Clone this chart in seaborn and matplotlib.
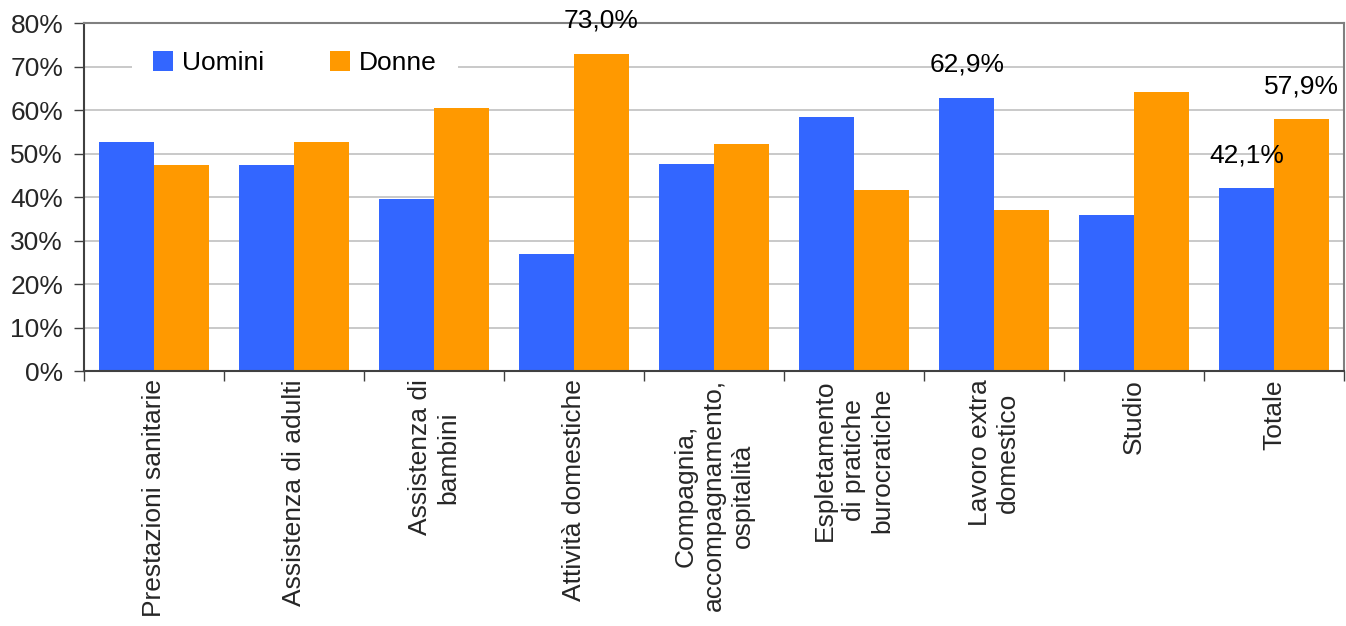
import pandas as pd
import matplotlib
matplotlib.use("Agg")
import matplotlib.pyplot as plt
import matplotlib.ticker as mticker
import seaborn as sns

categorie = [
    "Prestazioni sanitarie",
    "Assistenza di adulti",
    "Assistenza di\nbambini",
    "Attività domestiche",
    "Compagnia,\naccompagnamento,\nospitalità",
    "Espletamento\ndi pratiche\nburocratiche",
    "Lavoro extra\ndomestico",
    "Studio",
    "Totale",
]
uomini = [52.6, 47.4, 39.6, 27.0, 47.7, 58.4, 62.9, 35.8, 42.1]
donne = [47.4, 52.6, 60.4, 73.0, 52.3, 41.6, 37.1, 64.2, 57.9]
# which bars carry a value label
etichette_uomini = [False, False, False, False, False, False, True, False, True]
etichette_donne = [False, False, False, True, False, False, False, False, True]

df = pd.DataFrame({
    "categoria": categorie * 2,
    "valore": uomini + donne,
    "sesso": ["Uomini"] * len(categorie) + ["Donne"] * len(categorie),
})

sns.set_style("white")
plt.rcParams["font.family"] = ["Liberation Sans", "DejaVu Sans"]
plt.rcParams["font.size"] = 19

fig, ax = plt.subplots(figsize=(13.46, 6.26), dpi=100)
fig.subplots_adjust(left=0.0624, right=0.9985, top=0.963, bottom=0.4073)

sns.barplot(data=df, x="categoria", y="valore", hue="sesso",
            palette=["#3366FF", "#FF9900"], width=0.78, gap=0,
            saturation=1, linewidth=0, ax=ax, zorder=2)


def fmt(v):
    return f"{v:.1f}%".replace(".", ",")


for cont, vals, flags in zip(ax.containers, [uomini, donne],
                             [etichette_uomini, etichette_donne]):
    labels = [fmt(v) if f else "" for v, f in zip(vals, flags)]
    ax.bar_label(cont, labels=labels, padding=15, fontsize=19, color="black")

ax.set_ylim(0, 80)
ax.set_xlim(-0.5, len(categorie) - 0.5)
ax.yaxis.set_major_locator(mticker.MultipleLocator(10))
ax.yaxis.set_major_formatter(mticker.FormatStrFormatter("%d%%"))
ax.yaxis.grid(True, color="#C0C0C0", linewidth=1.2, zorder=0)
ax.set_axisbelow(True)
ax.set_xlabel("")
ax.set_ylabel("")

ax.set_xticks(range(len(categorie)))
ax.set_xticklabels(categorie, rotation=90, ha="center", va="top",
                   multialignment="center", linespacing=1.25, fontsize=19)
ax.set_xticks([i - 0.5 for i in range(len(categorie) + 1)], minor=True)
ax.tick_params(axis="x", which="major", length=0, pad=6)
ax.tick_params(axis="x", which="minor", length=7, width=1, color="#404040",
               direction="out", bottom=True)
ax.tick_params(axis="y", length=7, width=1, color="#404040", direction="out",
               left=True, pad=8, labelsize=19)

for side in ["left", "bottom"]:
    ax.spines[side].set_color("#404040")
    ax.spines[side].set_linewidth(1.5)
for side in ["top", "right"]:
    ax.spines[side].set_color("#808080")
    ax.spines[side].set_linewidth(1.5)

leg = ax.legend(ncol=2, loc="center left", bbox_to_anchor=(0.038, 0.885),
                frameon=True, facecolor="white", edgecolor="none", framealpha=1,
                fancybox=False, handlelength=0.75, handleheight=0.75,
                handletextpad=0.35, columnspacing=2.5, borderpad=0.8,
                borderaxespad=0, fontsize=19)
leg.get_frame().set_linewidth(0)
for t in leg.get_texts():
    t.set_color("black")

fig.savefig("out.png", dpi=100)
